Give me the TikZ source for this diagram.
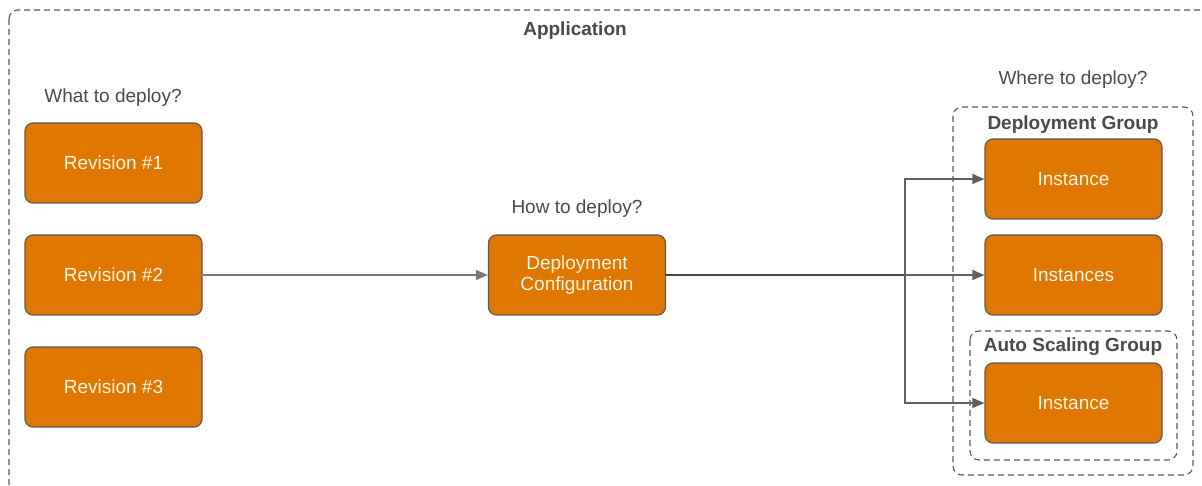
\documentclass[tikz,border=0pt]{standalone}
\usepackage{fontspec}
\setmainfont{Liberation Sans}
\usetikzlibrary{arrows.meta}
\definecolor{orangebox}{HTML}{E07800}
\definecolor{boxline}{HTML}{5A5A5A}
\definecolor{boxtext}{HTML}{FFF3E2}
\definecolor{labeltext}{HTML}{4A4A4A}
\definecolor{linegray}{HTML}{606060}
\definecolor{darkline}{HTML}{454545}
\tikzset{
  x=1pt, y=-1pt,
  obox/.style={draw=boxline, line width=1.2pt, fill=orangebox, rounded corners=8pt,
    minimum width=177pt, minimum height=80pt, text=boxtext, align=center,
    font=\fontsize{19}{22.5}\selectfont, inner sep=0pt},
  qlabel/.style={text=labeltext, font=\fontsize{19}{22.5}\selectfont, inner sep=0pt},
  glabel/.style={text=labeltext, font=\fontsize{19}{22.5}\selectfont\bfseries, inner sep=0pt},
  groupbox/.style={draw=boxline, line width=1.1pt, dash pattern=on 6pt off 4pt, rounded corners=9pt},
  conn/.style={draw=linegray, line width=1.5pt, -{Triangle[length=12pt,width=10pt]}},
}
\begin{document}
\begin{tikzpicture}
\useasboundingbox (0,0) rectangle (1202,486);
\fill[white] (0,0) rectangle (1202,486);
\begin{scope}
\clip (0,0) rectangle (1202,486);
\draw[groupbox, line width=1.1pt] (9,10) rectangle (1240,530);
\end{scope}
\node[glabel] (app) at (575,31) {Application};

\node[qlabel] (what) at (113,98) {What to deploy?};
\node[obox] (r1) at (113.5,163) {Revision \#1};
\node[obox] (r2) at (113.5,275) {Revision \#2};
\node[obox] (r3) at (113.5,387) {Revision \#3};

\node[qlabel] (how) at (577,209) {How to deploy?};
\node[obox] (dc) at (577,275) {Deployment\\[-1pt]Configuration};

\node[qlabel] (where) at (1073,80) {Where to deploy?};
\draw[groupbox] (953,107) rectangle (1193,475);
\node[glabel] (dg) at (1073,125) {Deployment Group};
\draw[groupbox] (970,331) rectangle (1177,460);
\node[glabel] (asg) at (1073,347) {Auto Scaling Group};

\node[obox] (i1) at (1073.5,179) {Instance};
\node[obox] (i2) at (1073.5,275) {Instances};
\node[obox] (i3) at (1073.5,403) {Instance};

\coordinate (junc) at (905,275);
\draw[conn, draw=linegray!85] (r2.east) -- (dc.west);
\draw[draw=darkline, line width=2.2pt] (dc.east) -- (junc);
\draw[conn] (junc) |- (i1.west);
\draw[conn] (junc) -- (i2.west);
\draw[conn] (junc) |- (i3.west);
\end{tikzpicture}
\end{document}
